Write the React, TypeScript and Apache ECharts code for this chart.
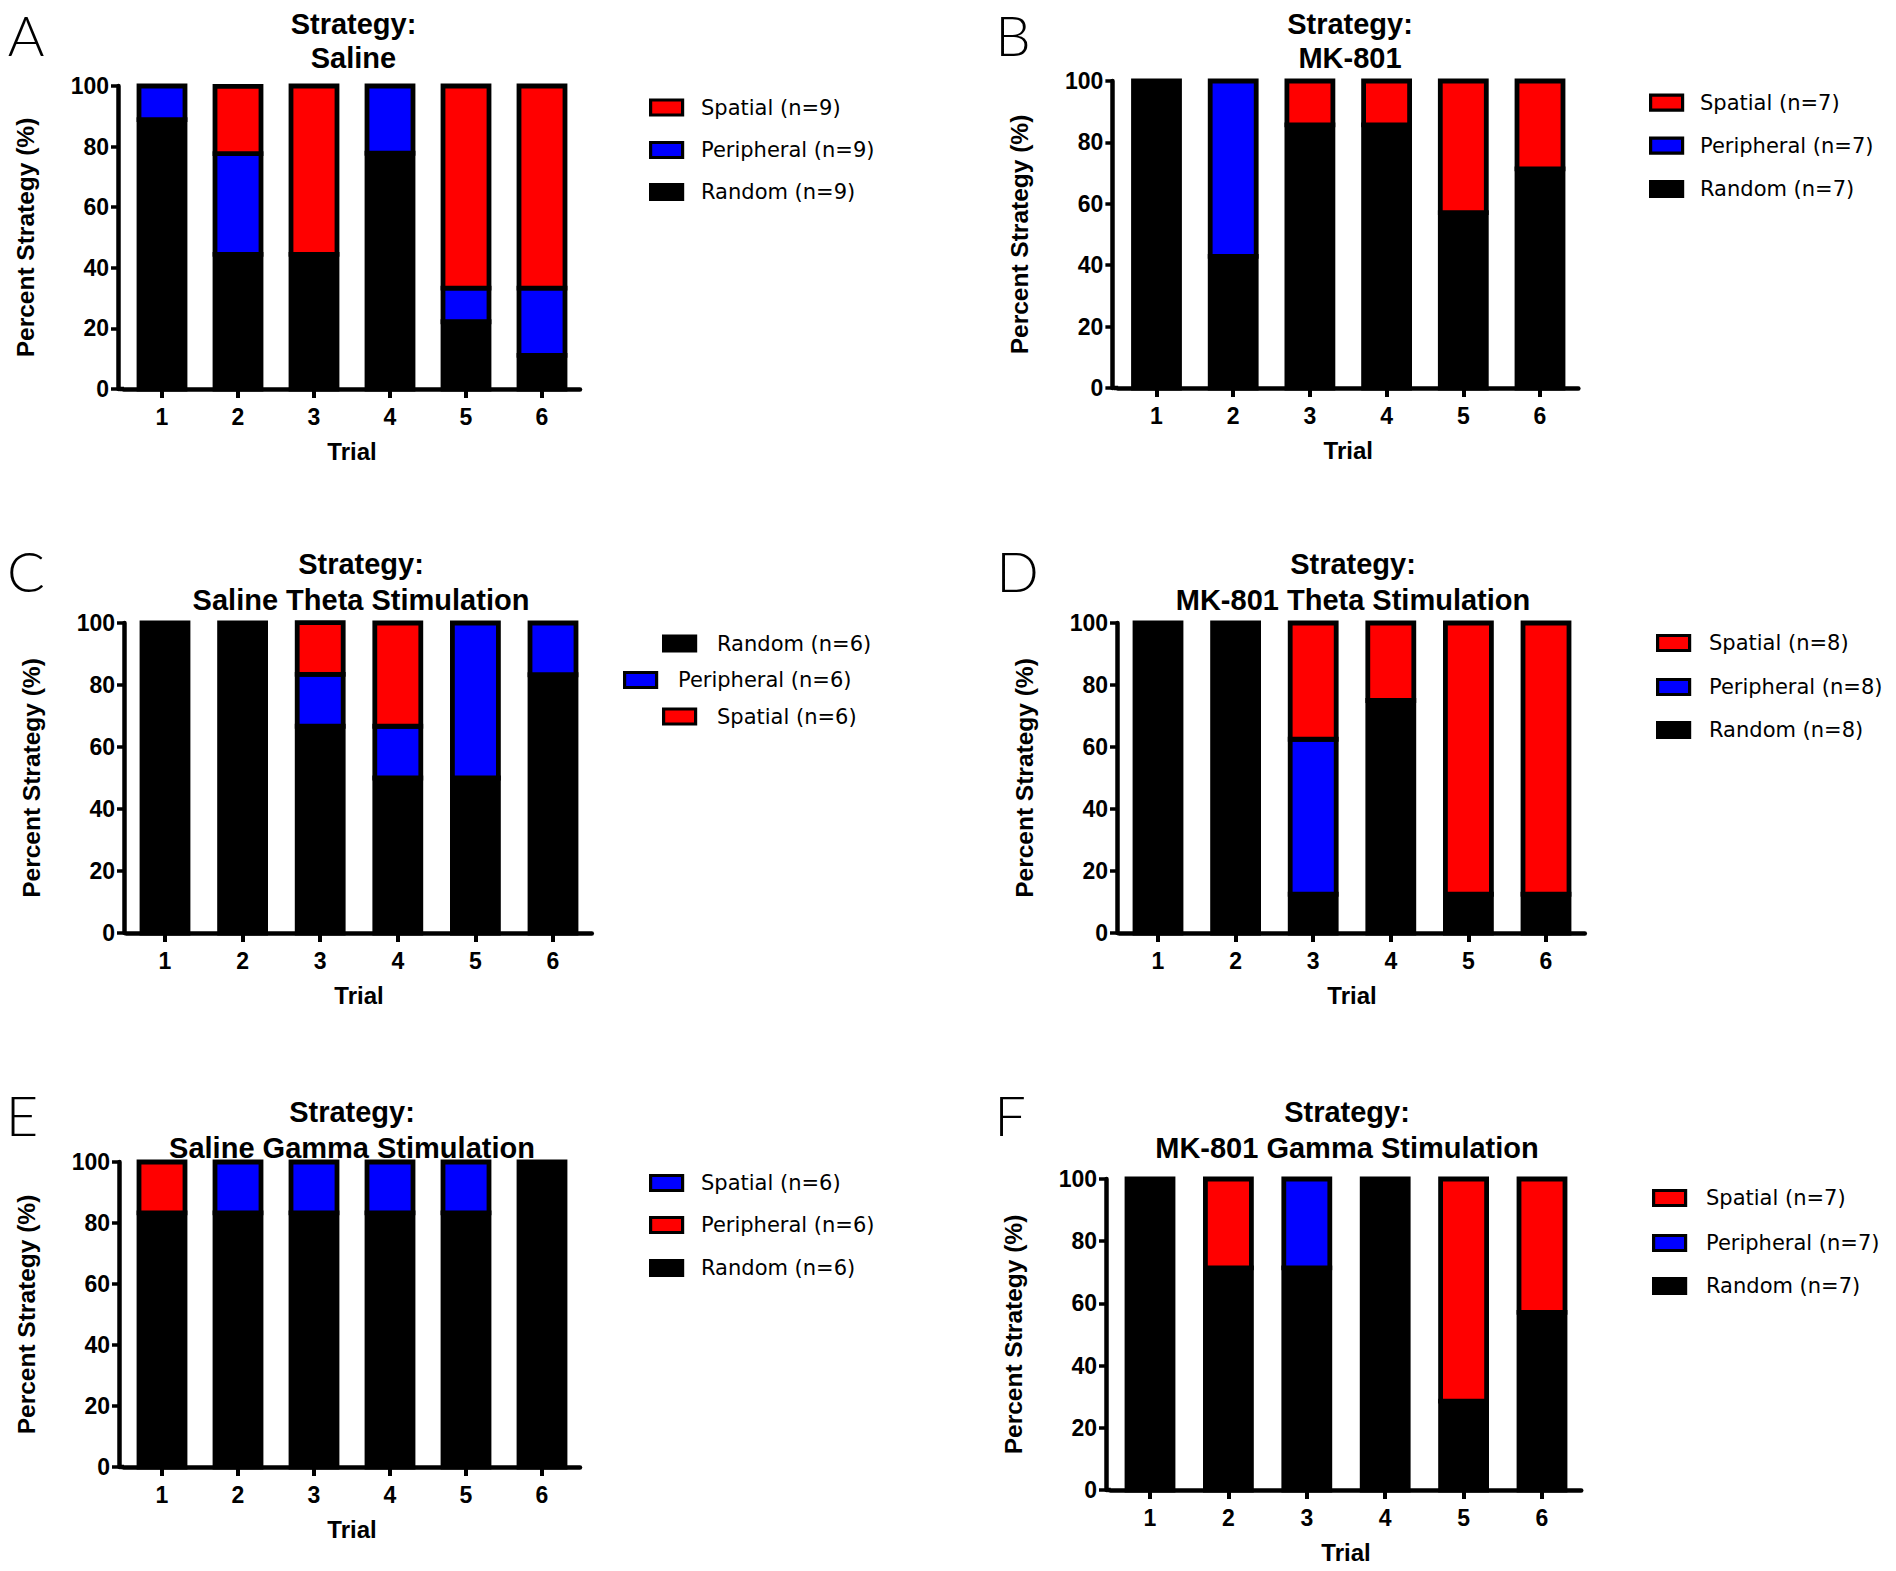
import React, { useEffect, useRef } from "react";
import * as echarts from "echarts";

// ---------- shared text ----------
const TRIALS = ["1", "2", "3", "4", "5", "6"];
const TITLE_LINE1 = "Strategy:";
const Y_NAME = "Percent Strategy (%)";
const X_NAME = "Trial";

const RED = "#ff0000";
const BLUE = "#0000ff";
const BLACK = "#000000";

// ---------- Panel A : Saline (n=9) ----------
const A_LETTER = "A";
const A_TITLE = "Saline";
const A_RANDOM = [88.9, 44.4, 44.4, 77.8, 22.2, 11.1];
const A_PERIPHERAL = [11.1, 33.3, 0, 22.2, 11.1, 22.2];
const A_SPATIAL = [0, 22.2, 55.6, 0, 66.7, 66.7];

// ---------- Panel B : MK-801 (n=7) ----------
const B_LETTER = "B";
const B_TITLE = "MK-801";
const B_RANDOM = [100, 42.9, 85.7, 85.7, 57.1, 71.4];
const B_PERIPHERAL = [0, 57.1, 0, 0, 0, 0];
const B_SPATIAL = [0, 0, 14.3, 14.3, 42.9, 28.6];

// ---------- Panel C : Saline Theta Stimulation (n=6) ----------
const C_LETTER = "C";
const C_TITLE = "Saline Theta Stimulation";
const C_RANDOM = [100, 100, 66.7, 50, 50, 83.3];
const C_PERIPHERAL = [0, 0, 16.7, 16.7, 50, 16.7];
const C_SPATIAL = [0, 0, 16.7, 33.3, 0, 0];

// ---------- Panel D : MK-801 Theta Stimulation (n=8) ----------
const D_LETTER = "D";
const D_TITLE = "MK-801 Theta Stimulation";
const D_RANDOM = [100, 100, 12.5, 75, 12.5, 12.5];
const D_PERIPHERAL = [0, 0, 50, 0, 0, 0];
const D_SPATIAL = [0, 0, 37.5, 25, 87.5, 87.5];

// ---------- Panel E : Saline Gamma Stimulation (n=6) ----------
const E_LETTER = "E";
const E_TITLE = "Saline Gamma Stimulation";
const E_RANDOM = [83.3, 83.3, 83.3, 83.3, 83.3, 100];
const E_PERIPHERAL = [16.7, 0, 0, 0, 0, 0];
const E_SPATIAL = [0, 16.7, 16.7, 16.7, 16.7, 0];

// ---------- Panel F : MK-801 Gamma Stimulation (n=7) ----------
const F_LETTER = "F";
const F_TITLE = "MK-801 Gamma Stimulation";
const F_RANDOM = [100, 71.4, 71.4, 100, 28.6, 57.1];
const F_PERIPHERAL = [0, 0, 28.6, 0, 0, 0];
const F_SPATIAL = [0, 28.6, 0, 0, 71.4, 42.9];

// ---------- styles ----------
const BOLD_FONT = "'Liberation Sans', Arial, Helvetica, sans-serif";
const LEGEND_FONT = "'DejaVu Sans', 'Liberation Sans', sans-serif";
const LETTER_FONT = "Lato, 'Open Sans', sans-serif";
const AXIS_W = 4.5;
const BAR_INNER_W = 46; // rect width; stroke is centred on its edges
const BAR_STROKE = 4.8;

type SeriesDef = { label: string; n: number; values: number[]; color: string };
type LegendSlot = { key: string; swatchLeft: number; rowY: number; textX: number };
type Layout = {
  left: number; top: number; w: number; h: number;
  axisX: number; c1: number; c6: number; plotTop: number; zero: number;
  titleX: number; title1Y: number; title2Y: number;
  letterX: number; letterY: number;
};
type PanelDef = {
  letter: string; title: string; series: SeriesDef[]; legend: LegendSlot[]; layout: Layout;
};

// series listed bottom-to-top of each stacked bar
function mk(random: number[], peripheral: number[], spatial: number[], n: number, periColor: string, spatColor: string): SeriesDef[] {
  return [
    { label: "Random", n, values: random, color: BLACK },
    { label: "Peripheral", n, values: peripheral, color: periColor },
    { label: "Spatial", n, values: spatial, color: spatColor },
  ];
}

const PANELS: PanelDef[] = [
  {
    letter: A_LETTER, title: A_TITLE,
    series: mk(A_RANDOM, A_PERIPHERAL, A_SPATIAL, 9, BLUE, RED),
    legend: [
      { key: "Spatial", swatchLeft: 649, rowY: 107.5, textX: 701 },
      { key: "Peripheral", swatchLeft: 649, rowY: 150, textX: 701 },
      { key: "Random", swatchLeft: 649, rowY: 192, textX: 701 },
    ],
    layout: { left: 0, top: 0, w: 948, h: 525, axisX: 118, c1: 162, c6: 542, plotTop: 86, zero: 389,
      titleX: 353.5, title1Y: 24, title2Y: 58, letterX: 26, letterY: 34 },
  },
  {
    letter: B_LETTER, title: B_TITLE,
    series: mk(B_RANDOM, B_PERIPHERAL, B_SPATIAL, 7, BLUE, RED),
    legend: [
      { key: "Spatial", swatchLeft: 701, rowY: 102.7, textX: 752 },
      { key: "Peripheral", swatchLeft: 701, rowY: 145.7, textX: 752 },
      { key: "Random", swatchLeft: 701, rowY: 189, textX: 752 },
    ],
    layout: { left: 948, top: 0, w: 948, h: 525, axisX: 164.4, c1: 208.5, c6: 592, plotTop: 81, zero: 388,
      titleX: 402, title1Y: 24, title2Y: 58, letterX: 65, letterY: 34 },
  },
  {
    letter: C_LETTER, title: C_TITLE,
    series: mk(C_RANDOM, C_PERIPHERAL, C_SPATIAL, 6, BLUE, RED),
    legend: [
      { key: "Random", swatchLeft: 662, rowY: 118.5, textX: 717 },
      { key: "Peripheral", swatchLeft: 623, rowY: 155, textX: 678 },
      { key: "Spatial", swatchLeft: 662, rowY: 191.5, textX: 717 },
    ],
    layout: { left: 0, top: 525, w: 948, h: 525, axisX: 124, c1: 165, c6: 553, plotTop: 98, zero: 408,
      titleX: 361, title1Y: 38.7, title2Y: 74.7, letterX: 26, letterY: 45 },
  },
  {
    letter: D_LETTER, title: D_TITLE,
    series: mk(D_RANDOM, D_PERIPHERAL, D_SPATIAL, 8, BLUE, RED),
    legend: [
      { key: "Spatial", swatchLeft: 708, rowY: 118, textX: 761 },
      { key: "Peripheral", swatchLeft: 708, rowY: 162, textX: 761 },
      { key: "Random", swatchLeft: 708, rowY: 205, textX: 761 },
    ],
    layout: { left: 948, top: 525, w: 948, h: 525, axisX: 169, c1: 210, c6: 598, plotTop: 98, zero: 408,
      titleX: 405, title1Y: 38.7, title2Y: 74.7, letterX: 69.5, letterY: 45 },
  },
  {
    letter: E_LETTER, title: E_TITLE,
    series: mk(E_RANDOM, E_PERIPHERAL, E_SPATIAL, 6, RED, BLUE),
    legend: [
      { key: "Spatial", swatchLeft: 649, rowY: 133, textX: 701 },
      { key: "Peripheral", swatchLeft: 649, rowY: 175, textX: 701 },
      { key: "Random", swatchLeft: 649, rowY: 218, textX: 701 },
    ],
    layout: { left: 0, top: 1050, w: 948, h: 521, axisX: 119, c1: 162, c6: 542, plotTop: 112, zero: 417,
      titleX: 352, title1Y: 62, title2Y: 98, letterX: 22, letterY: 64 },
  },
  {
    letter: F_LETTER, title: F_TITLE,
    series: mk(F_RANDOM, F_PERIPHERAL, F_SPATIAL, 7, BLUE, RED),
    legend: [
      { key: "Spatial", swatchLeft: 704, rowY: 148, textX: 758 },
      { key: "Peripheral", swatchLeft: 704, rowY: 193, textX: 758 },
      { key: "Random", swatchLeft: 704, rowY: 236, textX: 758 },
    ],
    layout: { left: 948, top: 1050, w: 948, h: 521, axisX: 158, c1: 202, c6: 594, plotTop: 129, zero: 440,
      titleX: 399, title1Y: 62, title2Y: 98, letterX: 62, letterY: 64 },
  },
];

const seriesName = (s: SeriesDef) => `${s.label} (n=${s.n})`;

function buildOption(p: PanelDef): any {
  const L = p.layout;
  const band = (L.c6 - L.c1) / 5;
  const gridLeft = L.c1 - band / 2;
  const gridRight = L.c6 + band / 2;
  const yOffset = gridLeft - L.axisX;
  const gap = Math.max(0, yOffset - AXIS_W / 2) + 1;

  const ICON_W = 32;
  const ICON_H = 15;
  const ICON_BORDER = 3.2;
  const ROW_H = 22;

  const legends = p.legend.map((slot) => {
    const s = p.series.find((x) => x.label === slot.key)!;
    const iconLeft = slot.swatchLeft + ICON_BORDER / 2;
    return {
      data: [seriesName(s)],
      left: iconLeft,
      top: slot.rowY - ROW_H / 2,
      orient: "vertical",
      padding: 0,
      itemWidth: ICON_W,
      itemHeight: ICON_H,
      selectedMode: false,
      icon: "rect",
      itemStyle: { color: s.color, borderWidth: 0 },
      textStyle: {
        fontFamily: LEGEND_FONT,
        fontSize: 21,
        color: "#000",
        lineHeight: ROW_H,
        padding: [0, 0, 0, slot.textX - (iconLeft + ICON_W + 5)],
      },
    };
  });

  // black frames drawn over the legend swatches
  const legendFrames = p.legend.map((slot) => ({
    type: "rect",
    silent: true,
    z: 100,
    shape: {
      x: slot.swatchLeft + ICON_BORDER / 2,
      y: slot.rowY - ICON_H / 2,
      width: ICON_W,
      height: ICON_H,
    },
    style: { fill: "none", stroke: BLACK, lineWidth: ICON_BORDER },
  }));

  // cumulative bases for the stacked segments (bottom-to-top)
  const bases: number[][] = [];
  p.series.forEach((s, k) => {
    bases.push(s.values.map((_, i) => (k === 0 ? 0 : bases[k - 1][i] + p.series[k - 1].values[i])));
  });

  const series = p.series.map((s, k) => ({
    type: "custom",
    name: seriesName(s),
    silent: true,
    itemStyle: { color: s.color },
    encode: { x: 0, y: [1, 2] },
    data: s.values
      .map((v, i) => [i, bases[k][i], bases[k][i] + v])
      .filter((d) => d[2] - d[1] > 0),
    renderItem: (_params: any, api: any) => {
      const i = api.value(0);
      const lo = api.coord([i, api.value(1)]);
      const hi = api.coord([i, api.value(2)]);
      return {
        type: "rect",
        shape: { x: lo[0] - BAR_INNER_W / 2, y: hi[1], width: BAR_INNER_W, height: lo[1] - hi[1] },
        style: { fill: s.color, stroke: BLACK, lineWidth: BAR_STROKE },
      };
    },
  }));

  const textEl = (text: string, x: number, y: number, font: string) => ({
    type: "text",
    x,
    y,
    style: {
      text,
      font,
      fill: "#000",
      textAlign: "center",
      textVerticalAlign: "middle",
      align: "center",
      verticalAlign: "middle",
    },
  });

  return {
    animation: false,
    backgroundColor: "#ffffff",
    grid: {
      left: gridLeft,
      top: L.plotTop,
      width: gridRight - gridLeft,
      height: L.zero - L.plotTop,
      containLabel: false,
      outerBoundsMode: "none",
    },
    legend: legends,
    xAxis: {
      type: "category",
      data: TRIALS,
      name: X_NAME,
      nameLocation: "middle",
      nameGap: 50,
      nameTextStyle: { fontFamily: BOLD_FONT, fontWeight: "bold", fontSize: 24, color: "#000" },
      axisLine: {
        show: true,
        lineStyle: { color: "#000", width: AXIS_W },
        symbol: gap > 1 ? ["rect", "none"] : "none",
        symbolSize: [AXIS_W, gap],
        symbolOffset: [-gap / 2, 0],
      },
      axisTick: { show: true, alignWithLabel: true, length: 9, lineStyle: { color: "#000", width: 4 } },
      axisLabel: { margin: 16, fontFamily: BOLD_FONT, fontWeight: "bold", fontSize: 23, color: "#000" },
      splitLine: { show: false },
    },
    yAxis: {
      type: "value",
      min: 0,
      max: 100,
      interval: 20,
      offset: yOffset,
      name: Y_NAME,
      nameLocation: "middle",
      nameRotate: 90,
      nameGap: 80,
      nameTextStyle: { fontFamily: BOLD_FONT, fontWeight: "bold", fontSize: 24.5, color: "#000" },
      axisLine: { show: true, lineStyle: { color: "#000", width: AXIS_W } },
      axisTick: { show: true, length: 7, lineStyle: { color: "#000", width: 3.5 } },
      axisLabel: { margin: 9, fontFamily: BOLD_FONT, fontWeight: "bold", fontSize: 23, color: "#000" },
      splitLine: { show: false },
    },
    series,
    graphic: [
      textEl(TITLE_LINE1, L.titleX, L.title1Y, `bold 29px ${BOLD_FONT}`),
      textEl(p.title, L.titleX, L.title2Y, `bold 29px ${BOLD_FONT}`),
      textEl(p.letter, L.letterX, L.letterY, `300 56px ${LETTER_FONT}`),
      ...legendFrames,
    ],
  };
}

function Panel({ def }: { def: PanelDef }) {
  const ref = useRef<HTMLDivElement>(null);
  useEffect(() => {
    if (!ref.current) return;
    const chart = echarts.init(ref.current, undefined, { renderer: "svg" });
    chart.setOption(buildOption(def));
    return () => chart.dispose();
  }, [def]);
  const L = def.layout;
  return (
    <div
      ref={ref}
      style={{ position: "absolute", left: L.left, top: L.top, width: L.w, height: L.h }}
    />
  );
}

export default function App() {
  return (
    <div style={{ position: "absolute", left: 0, top: 0, width: 1896, height: 1571, background: "#fff" }}>
      {PANELS.map((p) => (
        <Panel key={p.letter} def={p} />
      ))}
    </div>
  );
}
